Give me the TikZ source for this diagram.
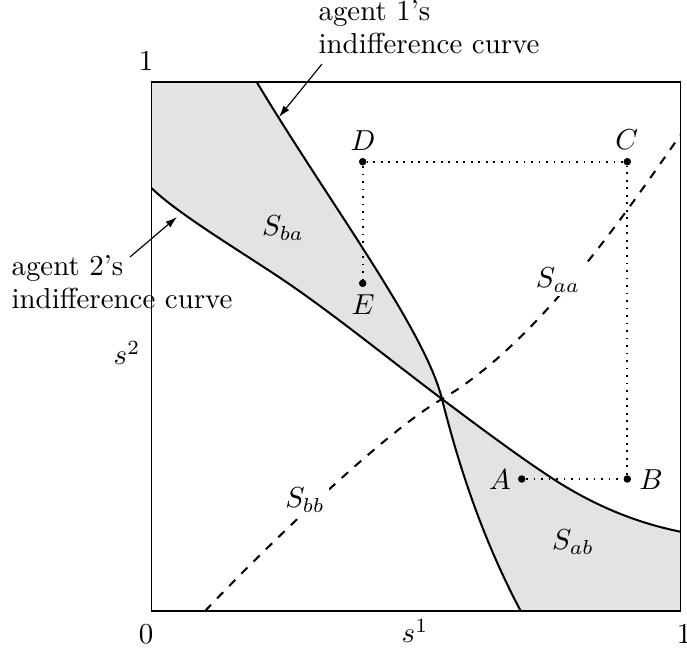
\documentclass[tikz,border=0pt]{standalone}
\usetikzlibrary{arrows.meta}
\begin{document}
\begin{tikzpicture}[x=0.346pt,y=-0.346pt,
  regfill/.style={fill=black!11},
  curve/.style={line width=0.7pt},
  dcurve/.style={line width=0.7pt,dashed},
  frame/.style={line width=0.5pt},
  pt/.style={circle,fill=black,inner sep=0pt,minimum size=2.6pt},
  guide/.style={line width=0.6pt,dotted},
  lab/.style={inner sep=1pt},
  reglab/.style={fill=white,inner sep=1.5pt},
  note/.style={align=left,inner sep=0pt,font=\fontsize{10}{11.5}\selectfont},
  pointer/.style={line width=0.4pt,-{Latex[length=4pt,width=2.6pt]}}]
\useasboundingbox (0,0) rectangle (687,653);
\coordinate (X) at (442,399);
% shaded regions
\fill[regfill] (151.5,82) -- (151.5,188) .. controls (176.5,213) and (243.3,253) .. (283.3,280)
  .. controls (333.3,313.75) and (392,361.5) .. (X)
  .. controls (424.5,329) and (328.7,202) .. (256.7,82) -- cycle;
\fill[regfill] (X) .. controls (459.5,469) and (483.6,541) .. (520.7,611) -- (680.5,611) -- (680.5,531.7)
  .. controls (630.5,521.7) and (588.3,501.75) .. (553.3,479)
  .. controls (518.3,456.25) and (477,425.25) .. (X) -- cycle;
% frame
\draw[frame] (151.5,82) rectangle (680.5,611);
% agent 1's indifference curve
\draw[curve] (256.7,82) .. controls (328.7,202) and (424.5,329) .. (X)
  .. controls (459.5,469) and (483.6,541) .. (520.7,611);
% agent 2's indifference curve
\draw[curve] (151.5,188) .. controls (176.5,213) and (243.3,253) .. (283.3,280)
  .. controls (333.3,313.75) and (392,361.5) .. (X)
  .. controls (477,425.25) and (518.3,456.25) .. (553.3,479)
  .. controls (588.3,501.75) and (630.5,521.7) .. (680.5,531.7);
% dashed curve
\draw[dcurve] (205,611) .. controls (265,548) and (382,434) .. (X)
  .. controls (542,341) and (635.5,198) .. (680.5,135);
\node[reglab] (Sbb) at (305,500) {$S_{bb}$};
\node[reglab] (Saa) at (558,280) {$S_{aa}$};
\node (Sba) at (283,228) {$S_{ba}$};
\node (Sab) at (573,542) {$S_{ab}$};
% points
\node[pt] (A) at (521.7,479) {};
\node[pt] (B) at (627.3,479) {};
\node[pt] (C) at (627.3,161.7) {};
\node[pt] (D) at (362.7,161.7) {};
\node[pt] (E) at (362.7,283.3) {};
\draw[guide] (A) -- (B) -- (C) -- (D) -- (E);
\node[lab] (Alab) at (500,480) {$A$};
\node[lab] (Blab) at (651,480) {$B$};
\node[lab] (Clab) at (626.7,140) {$C$};
\node[lab] (Dlab) at (363,141) {$D$};
\node[lab] (Elab) at (363,305) {$E$};
% axis labels
\node (one2) at (146,61) {1};
\node (zero) at (146,634) {0};
\node (one1) at (684,634) {1};
\node (s1) at (415,631) {$s^1$};
\node (s2) at (127,353) {$s^2$};
% annotations
\node[note,anchor=base west] (n1) at (318,53.3) {agent 1's\\indifference curve};
\coordinate (n1tail) at (322,64);
\coordinate (n1tip) at (279,117);
\draw[pointer] (n1tail) -- (n1tip);
\node[note,anchor=base west] (n2) at (11,308.3) {agent 2's\\indifference curve};
\coordinate (n2tail) at (130,257);
\coordinate (n2tip) at (177,217);
\draw[pointer] (n2tail) -- (n2tip);
\end{tikzpicture}
\end{document}
